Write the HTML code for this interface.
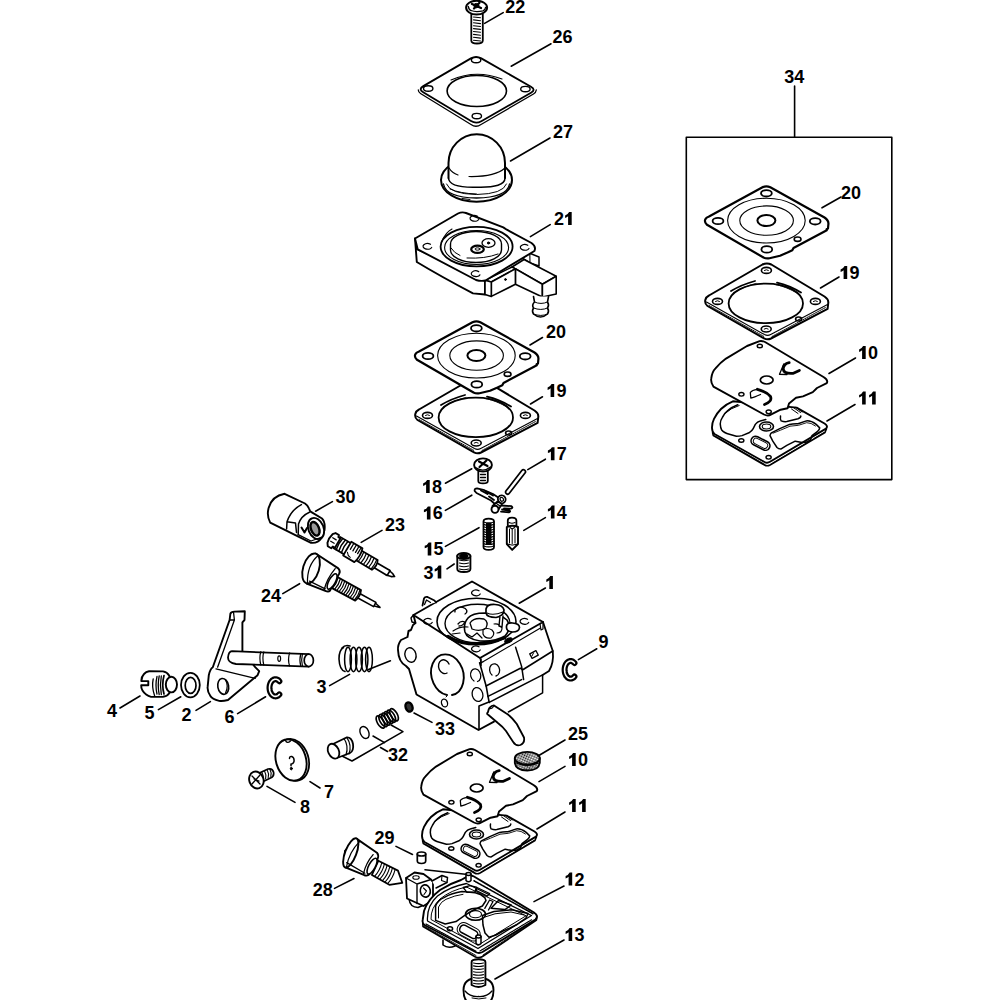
<!DOCTYPE html>
<html><head><meta charset="utf-8"><style>
html,body{margin:0;padding:0;background:#fff;width:1000px;height:1000px;overflow:hidden}
svg{display:block}
text{font-family:"Liberation Sans",sans-serif;font-weight:bold;font-size:18px;fill:#000}
</style></head><body>
<svg width="1000" height="1000" viewBox="0 0 1000 1000">
<g fill="none" stroke="#000" stroke-linejoin="round" stroke-linecap="round">
<rect x="686.3" y="137.2" width="205.5" height="342.4" stroke-width="1.6"/>
<g id="p13"><path d="M463.5,990 Q463.5,978 478.5,978 Q493.5,978 493.5,990 Q493.5,1006 478.5,1006 Q463.5,1006 463.5,990 Z" stroke-width="1.9" fill="#fff"/><path d="M465,991 Q470,997 478.5,996.5 Q487,997 492,991" stroke-width="1.3" fill="none"/><path d="M472,998 Q478.5,1000 486,998" stroke-width="1" fill="none"/><path d="M475,1001 L475,1003 M482,1001 L482,1003" stroke-width="1.4" fill="none"/><path d="M471.6,985 L471.6,962 Q471.6,959.2 478.5,959.2 Q485.4,959.2 485.4,962 L485.4,985 Q478.5,989 471.6,985 Z" stroke-width="1.9" fill="#fff"/><path d="M473.5,963.0 Q478.5,964.2 483.5,963.0" stroke-width="1.1" fill="none"/><path d="M473.5,965.9 Q478.5,967.1 483.5,965.9" stroke-width="1.1" fill="none"/><path d="M473.5,968.8 Q478.5,970.0 483.5,968.8" stroke-width="1.1" fill="none"/><path d="M473.5,971.7 Q478.5,972.9 483.5,971.7" stroke-width="1.1" fill="none"/><path d="M473.5,974.6 Q478.5,975.8 483.5,974.6" stroke-width="1.1" fill="none"/><path d="M473.5,977.5 Q478.5,978.7 483.5,977.5" stroke-width="1.1" fill="none"/><path d="M473.5,980.4 Q478.5,981.6 483.5,980.4" stroke-width="1.1" fill="none"/><path d="M473.5,983.3 Q478.5,984.5 483.5,983.3" stroke-width="1.1" fill="none"/></g>
<g id="p12"><path d="M443,940 L443,945 Q448,949 455,946 L455,941" stroke-width="1.6" fill="#fff"/><path d="M425,869.8 L465.5,874.2" stroke-width="1.6" fill="none"/><path d="M409,899 Q410,907.5 418,907.5 L424,905" stroke-width="1.5" fill="#fff"/><path d="M406,878 L414.5,872.5 L423.5,874 L431,879.5 L433,882 L433,900 L423.5,906 L407,898.5 Z" stroke-width="1.8" fill="#fff"/><path d="M406,878 L417,884 L431,879.5 M417,884 L417,903.5" stroke-width="1.4" fill="none"/><ellipse cx="425.3" cy="891.0" rx="5.0" ry="6.2" stroke-width="1.6" fill="#fff" transform="rotate(-10 425.3 891)"/><path d="M423.5,888 L426.5,891 L424,894.5" stroke-width="1.1" fill="none"/><ellipse cx="416.0" cy="877.5" rx="3.2" ry="1.8" stroke-width="1.1" fill="none"/><path d="M432,881 L442,875.5 L447.5,877.5 L447,882.5 L436,888" stroke-width="1.5" fill="#fff"/><path d="M442,875.5 L441.5,880.5 L447,882.5" stroke-width="1.1" fill="none"/><path d="M422.8,923 L423,926.5 L475.5,957 Q479,958.5 482.5,956.5 L536.5,920 L536.8,916" stroke-width="1.6" fill="#fff"/><path d="M424,926 L476,955.5 M483,955 L535.5,919.5" stroke-width="0.9" fill="none"/><path d="M468.5,875.8 Q471,875 474,876.5 L534,912.5 Q539,916 535.5,919.5 L482.5,952 Q479,954 475.5,952 L424.5,925 Q422,923 422.7,920 L424,911 Q428,899 440,890 Q450,883.5 461,880 Z" stroke-width="1.9" fill="#fff"/><path d="M466.5,883.5 L531.5,915.5 L478,948.5 L427.5,921 Q426.5,906 437.5,896 Q450,886.5 466.5,883.5 Z" stroke-width="1.3" fill="none"/><path d="M466.5,887 L526,915.8 L478,945.2 L431,919.5 Q430.5,908 440,899 Q451,890 466.5,887 Z" stroke-width="1" fill="none"/><path d="M474,880.8 L533.5,914" stroke-dasharray="0.9 0.9" stroke-width="1.6" fill="none"/><path d="M426,924 L476.5,951.5 M480,951 L532,919.5" stroke-dasharray="0.9 0.9" stroke-width="1.2" fill="none"/><path d="M435.6,920.4 L435.6,906 Q438,900 444,897.6 Q452,893 462,891.6 L475.2,892.8 Q481,894 484.8,897.6 L486,900.5 L482.4,906 Q476,908.5 470,912 L464.4,915.6 L456,921.6 L445.2,924 Z" stroke-width="1.5" fill="none"/><path d="M438.5,918 L438.5,907 Q441,901.5 446,899.3 Q455,895.3 463,894.3" stroke-width="1" fill="none"/><path d="M463.2,887.5 L470,885.6 L476.4,887.2 L475,891.8 L467,892.4 Z" stroke-width="1.3" fill="none"/><path d="M477,887.5 L489.6,893.5 L487.3,896.2 L476.3,890.7 Z" stroke-width="1.3" fill="none"/><ellipse cx="475.5" cy="914.2" rx="10.0" ry="6.0" stroke-width="1.6" fill="none"/><ellipse cx="475.5" cy="914.2" rx="6.0" ry="3.6" stroke-width="1.1" fill="none"/><path d="M484.8,908.4 L489.6,900 L493,901.5 L488.5,910" stroke-width="1.3" fill="none"/><path d="M491,908.2 L498.5,900.5 L511.2,905 L505,909.6 Z" stroke-width="1.5" fill="none"/><rect x="459.2" y="927.8" width="19" height="8" rx="3.5" transform="rotate(28 468.7 931.8)" stroke-width="1.5"/><rect x="456.7" y="925.3" width="24" height="13" rx="6" transform="rotate(28 468.7 931.8)" stroke-width="1.0"/><path d="M482.4,915.5 L494,911.5 L512,909.7 L528,913.5 L526,918 L521,921.5 L517,924.5 L510,928 L503,931 L496,935 L489,937.2 L485,933 L483,925 Z" stroke-width="1.5" fill="none"/><path d="M485,917 L495,913.8 L511,912 L524,915" stroke-width="1" fill="none"/><ellipse cx="450.0" cy="928.8" rx="2.6" ry="2.0" stroke-width="1.5" fill="none"/><path d="M466,874 L466,880.5 Q468.5,883 471,880.5 L471,874" stroke-width="1.5" fill="#fff"/><ellipse cx="468.5" cy="874.0" rx="2.5" ry="1.5" stroke-width="1.5" fill="#fff"/><path d="M476,936.5 L476,943.5 Q478.5,946 481,943.5 L481,936.5" stroke-width="1.5" fill="#fff"/><ellipse cx="478.5" cy="936.5" rx="2.5" ry="1.5" stroke-width="1.5" fill="#fff"/></g>
<g id="p28"><g transform="translate(345,851) rotate(28)"><path d="M34,-7 L56,-7.5 L65.5,1.2 L55,9 L35,8.5 Z" stroke-width="1.8" fill="#fff"/><path d="M38,-6.8 Q40,1 38,8.5" stroke-width="1.1" fill="none"/><path d="M41,-6.8 Q43,1 41,8.5" stroke-width="1.1" fill="none"/><path d="M44,-6.8 Q46,1 44,8.5" stroke-width="1.1" fill="none"/><path d="M47,-6.8 Q49,1 47,8.5" stroke-width="1.1" fill="none"/><path d="M50,-6.8 Q52,1 50,8.5" stroke-width="1.1" fill="none"/><path d="M53,-6.8 Q55,1 53,8.5" stroke-width="1.1" fill="none"/><path d="M4.3,-16.3 L29,-13.5 Q32,-12.3 32.5,-8.5 L32.5,9 Q32,11.8 28.5,12.3 L8,14.3 L4,10 L0,0 Z" stroke-width="1.9" fill="#fff"/><ellipse cx="6" cy="-1" rx="5.6" ry="15.5" transform="rotate(-7 6 -1)" stroke-width="1.9" fill="#fff"/><path d="M8.5,-15.5 Q4,-1 8.8,13.5" stroke-width="1.2" fill="none"/><path d="M7,9.5 L28,10.3" stroke-width="1.3" fill="none"/><path d="M26.5,-10 Q24,1 27,11.5" stroke-width="1.3" fill="none"/><ellipse cx="31.0" cy="0.7" rx="3.3" ry="8.8" stroke-width="1.6" fill="#fff"/></g></g>
<g id="p29"><path d="M417.3,854 L417.3,861 Q417.5,863.5 421.5,863.5 Q425.5,863.5 425.7,861 L425.7,854" stroke-width="1.7" fill="#fff"/><ellipse cx="421.5" cy="854.0" rx="4.2" ry="2.0" stroke-width="1.7" fill="#fff"/></g>
<g id="p11"><path d="M422.6,840.8 L423.3,843.5 L474.5,873 Q477.2,874.5 480,873 L535,840.5 L536.4,837" stroke-width="1.6" fill="#fff"/><path d="M425,844 L475,872.5 M483,871 L520,849 M524,846.5 L534,840.5" stroke-width="0.9" fill="none"/><path d="M506.6,815.6 L534.5,831.5 Q538.5,834 536,836.6 L480,869.8 Q477.2,871.6 474.5,870 L424.5,842 Q422.2,840.5 422,836 Q421.9,831 424,826.8 Q427,821 431,817 Q436,812 442.9,809.3 Z" stroke-width="1.9" fill="#fff"/><path d="M447.8,812.8 Q442,815 438,818.4 Q434,821.5 432.4,825.4 Q430,829 430.3,832.4 Q430.5,836 431.7,838 Q434,841 439.4,842.2 L446.4,844.3 Q449.5,844.3 452,843.6 L459,840.8 Q462,839 463.2,836.6 L465.3,832.4 Q467.5,829.5 470.2,828.9 L475.8,827.5" stroke-width="1.5" fill="none"/><path d="M435.2,821.2 Q441,816 449.2,813.5" stroke-width="1" fill="none"/><ellipse cx="476.5" cy="834.5" rx="7.0" ry="4.5" stroke-width="1.6" fill="none"/><ellipse cx="476.5" cy="834.5" rx="4.3" ry="2.5" stroke-width="1.1" fill="none"/><rect x="460.5" y="846.8" width="20" height="9" rx="4.5" transform="rotate(27 470.5 851.3)" stroke-width="1.6"/><rect x="462.8" y="848.4" width="15.4" height="5.8" rx="2.9" transform="rotate(27 470.5 851.3)" stroke-width="0.9"/><path d="M480,843.6 Q480.5,841.5 481.4,840.8 L489.8,836.6 L499.6,832.4 Q503,831.5 508,831.7 L516.4,828.9 Q521,828.5 526.2,832.4 L529.7,835.9 Q529.5,838 527.6,839.4 L522,843.6 L520.6,847.8 Q517,850.5 512.2,850.6 L505.2,849.2 L496.8,853.4 L491.2,856.9 Q488.5,857 487,855.5 L482.8,849.2 Z" stroke-width="1.5" fill="none"/><path d="M483,841.2 L490.5,838.2 L500,834.2 L508.5,833.3 L516.6,830.7 Q521,830.5 525.5,834" stroke-width="0.9" fill="none"/><path d="M490.5,824 Q490,827.5 491.2,828.9 Q494,830 496.8,829.6 L508,826.8 Q511,825.5 510.8,824" stroke-width="1.5" fill="none"/><path d="M504,816 L510.5,820.5 M506,815.5 L512,820 M501.5,817 L508,821.5" stroke-width="1" fill="none"/><ellipse cx="451.3" cy="848.5" rx="2.6" ry="1.8" stroke-width="1.4" fill="none"/><ellipse cx="478.6" cy="865.3" rx="2.6" ry="1.8" stroke-width="1.4" fill="none"/></g>
<g id="p10"><path d="M469.6,749.1 Q472,748.5 475,750 L533.5,785 Q538.5,788 536.8,791.1 L527,796 L522.8,800.2 L513,804.4 L506,805.8 L499,811.4 L497.6,816.3 L490.6,817.7 L480.8,822.6 Q478,824.5 474,822.5 L423.4,794.6 Q420.5,790 421.3,786.2 Q422,780 425.5,776.4 Q430,771 436,766.6 L457,754 Z" stroke-width="1.9" fill="#fff"/><ellipse cx="469.8" cy="754.0" rx="2.6" ry="1.8" stroke-width="1.4" fill="none"/><ellipse cx="451.4" cy="802.3" rx="2.6" ry="1.8" stroke-width="1.4" fill="none"/><ellipse cx="478.7" cy="819.8" rx="2.6" ry="1.8" stroke-width="1.4" fill="none"/><ellipse cx="476.7" cy="788.0" rx="6.4" ry="4.0" stroke-width="1.7" fill="none"/><path d="M499.2,770.6 Q493.5,771.5 493.2,777 Q493.8,782 502.8,781.4 L509.4,778.4" stroke-width="2.8" fill="none"/><path d="M493.8,772 L489.5,782.3 L497,782.5" stroke-width="1.3" fill="none"/><path d="M467.4,797.3 Q476,799.5 480.5,804.5 Q482.5,809.5 474.5,812.5" stroke-width="2.8" fill="none"/><path d="M467.4,797.3 Q462,798 460.3,800.5 L460.8,806 Q464,805.5 470.5,802.5" stroke-width="1.3" fill="none"/></g>
<g id="p25"><defs><pattern id="mesh" width="2.2" height="2.2" patternUnits="userSpaceOnUse" patternTransform="rotate(30)"><rect width="2.2" height="2.2" fill="#fff" stroke="none"/><rect width="1.1" height="1.1" fill="#111" stroke="none"/><rect x="1.1" y="1.1" width="1.1" height="1.1" fill="#333" stroke="none"/></pattern></defs><path d="M514.8,758 L514.8,763 Q516,770.5 527.3,770.5 Q538.8,770.5 539.8,763 L539.8,758" stroke-width="1.8" fill="url(#mesh)"/><ellipse cx="527.3" cy="758.2" rx="12.5" ry="6.3" stroke-width="1.8" fill="url(#mesh)"/><path d="M516,763 Q527,768 538.5,763" stroke-width="1.1" fill="none"/></g>
<g id="p1"><path d="M413.5,615 L472,581.5 L543,622 L549,640 L552.8,651 L553,666 L549,671 L542.6,675 L542.6,693 L508,712 L494,721.6 L479,729.4 L416.5,694.5 L409,669 L400,660 L398,647 L401,640 L407,637 L408,628 Z" stroke-width="0" fill="#fff"/><path d="M415.5,623 L413.5,615 M415.5,623 L413,625 L411,630 L408.5,631 L407.5,637 L401,640 Q397.5,645 398,650 Q398.5,662 406,666 L409,669 L416.5,694.5 L478.5,730 L494,721.6" stroke-width="1.9" fill="none"/><path d="M413.5,615 L411,618 L412,622 L415.5,623" stroke-width="1.4" fill="none"/><ellipse cx="410.5" cy="655.0" rx="5.5" ry="7.3" stroke-width="1.4" fill="none" transform="rotate(-15 410.5 655)"/><path d="M447,695 A16,20.7 -15 1 1 452,695" stroke-width="1.9" fill="none"/><path d="M446,697 L447,696" stroke-width="1" fill="none"/><path d="M447,673 A5.5,7 -15 1 1 449,664" stroke-width="1.4" fill="none"/><ellipse cx="444.5" cy="703.0" rx="3.0" ry="4.0" stroke-width="1.3" fill="none" transform="rotate(-15 444.5 703)"/><path d="M481,659 L481,666 M479.6,662.8 L486.2,686.2 L488,696.4 L489.2,702.4" stroke-width="1.6" fill="none"/><path d="M486,686 L520.4,668.2 L522.8,669.8 L552.8,651" stroke-width="1.6" fill="none"/><path d="M515.6,647.2 L521.6,666.4 L523.6,679.6" stroke-width="1.5" fill="none"/><path d="M488,696.4 L521.6,679.6 M489.2,702.4 L542.6,674.8 L542.6,692.8 L508.4,712" stroke-width="1.5" fill="none"/><path d="M479,706 L479,729.4 M479,706 L489,702" stroke-width="1.6" fill="none"/><path d="M474,681 A5,6.5 -15 1 1 477.5,681.5" stroke-width="1.3" fill="none"/><ellipse cx="477.5" cy="694.5" rx="5.3" ry="7.0" stroke-width="1.3" fill="none" transform="rotate(-15 477.5 694.5)"/><path d="M492,675 A5,6.2 -10 1 1 496,676" stroke-width="1.3" fill="none"/><rect x="530.5" y="652" width="7" height="5" transform="rotate(-28 534 654.5)" stroke-width="1.3"/><line x1="532.0" y1="656.0" x2="533.5" y2="653.0" stroke-width="1"/><path d="M543,622 L549,640 L552.8,651 Q554,663 549,671 L542.6,675" stroke-width="1.8" fill="none"/><path d="M413.5,615 L472,581.5 L543,622 L480,658 Z" stroke-width="1.9" fill="#fff"/><path d="M540.5,628 L483,661.8" stroke-width="1.2" fill="none"/><path d="M540,624 L541,630 L543,629 L543,622" stroke-width="1.2" fill="none"/><path d="M480,658 L481,663 L483,661.8" stroke-width="1.2" fill="none"/><path d="M422.5,605.5 L424,598.5 Q425,596.5 427.5,597 L434.5,600.5 L436,602.5" stroke-width="1.8" fill="#fff"/><path d="M424.5,604.5 L426.5,600 L430.5,602.5" stroke-width="1.3" fill="none"/><ellipse cx="476.5" cy="621.5" rx="39.5" ry="23.3" stroke-width="1.6" fill="none"/><ellipse cx="477.5" cy="623.5" rx="32.5" ry="19.3" stroke-width="1.4" fill="none"/><path d="M448,636 Q470,650 505,638" stroke-width="2.5" fill="none"/><path d="M468,618 Q472,613 485,613 Q500,614 507,620 Q512,628 505,636 Q495,642 480,641 Q467,639 465,632 Q463,624 468,618 Z" stroke-width="1.6" fill="#fff"/><path d="M470,623 Q474,617 484,619 Q489,622 486,628 Q480,632 472,629 Z" stroke-width="1.3" fill="none"/><path d="M483,630 Q487,627 492,630 Q496,634 491,638 Q485,639 483,634 Z" stroke-width="1.2" fill="none"/><path d="M467,634 L472,637 L477,633 L482,638 M494,624 Q499,623 502,628 Q502,633 497,633" stroke-width="1.2" fill="none"/><path d="M453,631 Q460,626 468,627 M452,634 L460,633" stroke-width="1.2" fill="none"/><path d="M458,624 q3,-4 7,-2 q-2,4 -6,4" stroke-width="1.3" fill="none"/><path d="M455,612 A6,4 0 1 1 465,614" stroke-width="1.3" fill="none"/><path d="M486,609 Q487,604 495,604.5 Q503,605 504,610 Q504,616 496,617.5 Q487,617.5 486,613 Z" stroke-width="1.7" fill="#fff"/><path d="M487,613 Q493,616 503,612" stroke-width="1.1" fill="none"/><path d="M500,616 L499,626 L502,627 L503,616" stroke-width="1.4" fill="#fff"/><path d="M506.5,626 Q507,622.5 512.5,623 Q519.5,623.5 519.5,627.5 Q519,632 512.5,632 Q507,631.5 506.5,628 Z" stroke-width="1.7" fill="#fff"/><ellipse cx="508.5" cy="640.5" rx="4.0" ry="2.2" stroke-width="1" fill="#000" transform="rotate(-25 508.5 640.5)"/><path d="M479.0,590.8 A4.5,2.8 0 1 0 480.2,594.0" stroke-width="1.3" fill="none"/><path d="M431.0,619.3 A4.5,2.8 0 1 0 432.2,622.5" stroke-width="1.3" fill="none"/><path d="M527.5,619.3 A4.5,2.8 0 1 0 528.7,622.5" stroke-width="1.3" fill="none"/><path d="M479.0,646.8 A4.5,2.8 0 1 0 480.2,650.0" stroke-width="1.3" fill="none"/><path d="M488,712 Q486,714 488.5,715 L497.6,722.8 Q503,727 506,731 L513.2,742 Q516,746.5 520.4,745 Q525,743 524,737.5 L516.8,724 Q511,716 506,713.2 L494,705.4 Q489,706 488,712 Z" stroke-width="1.8" fill="#fff"/><path d="M489,708 Q492,710 494,705.4" stroke-width="1.1" fill="none"/></g>
<g id="p19"><path d="M419,409.5 L472.5,378.5 Q476.9,376.3 481.3,378.5 L534.5,410.5 Q539,413.5 538.2,417.5 L537.6,422.8 L481,452.5 Q477.5,454.2 474,452.3 L417.5,420 Q414.6,417.8 415.3,414 Q416,411 419,409.5 Z" stroke-width="2" fill="#fff"/><path d="M416.5,416 L474.5,448.6 Q477.6,450.2 480.7,448.6 L537.5,418.5" stroke-width="1.1" fill="none"/><path d="M419,419.5 L474,450.5 M482,450.5 L535.5,421.5" stroke-dasharray="1.2 1" stroke-width="1" fill="none"/><ellipse cx="475.8" cy="417.4" rx="37.2" ry="19.8" stroke-width="1.8" fill="none"/><path d="M441,405 Q452,398.5 465,395 M487,396.6 Q500,399.5 511,406.6" stroke-width="1.8" fill="none"/><path d="M443.5,407 Q454,400.5 466,397.5 M486,398.6 Q498,401.5 508.5,408" stroke-dasharray="1 1" stroke-width="1" fill="none"/><ellipse cx="476.4" cy="384.4" rx="5.0" ry="3.0" stroke-width="1.6" fill="none"/><path d="M474.4,384.4 q2,-1.5 4,0" stroke-width="1" fill="none"/><ellipse cx="427.5" cy="415.4" rx="5.0" ry="3.0" stroke-width="1.6" fill="none"/><path d="M425.5,415.4 q2,-1.5 4,0" stroke-width="1" fill="none"/><ellipse cx="525.4" cy="415.4" rx="5.0" ry="3.0" stroke-width="1.6" fill="none"/><path d="M523.4,415.4 q2,-1.5 4,0" stroke-width="1" fill="none"/><ellipse cx="476.2" cy="443.0" rx="5.0" ry="3.0" stroke-width="1.6" fill="none"/><path d="M474.2,443.0 q2,-1.5 4,0" stroke-width="1" fill="none"/><ellipse cx="508.6" cy="433.0" rx="3.0" ry="2.0" stroke-width="1.6" fill="none"/></g>
<g id="p20"><path d="M419,351.5 L472.5,322.3 Q476.4,320.3 480.3,322.3 L534.5,352.5 Q539.2,355.5 538.3,360 L538,363.5 L536.6,364.3 L536.8,365.3 L503.5,383 L502.3,385.3 L497.5,387.5 L490,390.7 L479.5,393.2 Q476.4,394 473.5,392.5 L417,359.8 Q414.2,357.5 415.2,354.5 Q416,352.6 419,351.5 Z" stroke-width="2.2" fill="#fff"/><ellipse cx="476.4" cy="328.3" rx="5.4" ry="3.2" stroke-width="1.8" fill="none"/><ellipse cx="428.0" cy="356.0" rx="5.4" ry="3.2" stroke-width="1.8" fill="none"/><ellipse cx="525.2" cy="356.3" rx="5.4" ry="3.2" stroke-width="1.8" fill="none"/><ellipse cx="476.8" cy="384.4" rx="5.4" ry="3.2" stroke-width="1.8" fill="none"/><ellipse cx="507.6" cy="374.2" rx="3.4" ry="2.2" stroke-width="1.6" fill="none"/><ellipse cx="476.4" cy="355.6" rx="38.8" ry="22.4" stroke-width="1.1" fill="none"/><ellipse cx="476.6" cy="355.6" rx="26.8" ry="14.7" stroke-width="1.1" fill="none"/><ellipse cx="476.4" cy="355.6" rx="9.0" ry="5.5" stroke-width="2" fill="none"/></g>
<g id="p27"><ellipse cx="476.5" cy="180.0" rx="35.5" ry="21.8" stroke-width="2" fill="#fff"/><path d="M443.5,184 Q446,197.5 476.5,198 Q507,197.5 509.5,184" stroke-width="1.3" fill="none"/><path d="M446.5,184 Q450,194 476.5,194.5 Q503,194 506.5,184" stroke-width="1" fill="none"/><path d="M450,189 Q460,193.5 476.5,194 M462,198.5 L470,199.5" stroke-width="1" fill="none"/><path d="M448.5,178 Q449,188 476.75,187.2 Q505,188 505,178" stroke-width="1.5" fill="none"/><path d="M448.5,178 L448.5,163 A28.2,28.8 0 0 1 505,163 L505,178" stroke-width="2" fill="#fff"/><path d="M449,168 Q452,173 458,175 M469,176.5 Q495,177 505,168" stroke-width="1.2" fill="none"/></g>
<g id="p26"><path d="M423.3,86.1 L470.9,58.4 Q476.1,55.4 481.3,58.4 L531.0,86.8 Q536.2,89.8 531.0,92.8 L481.3,121.2 Q476.1,124.2 471.0,121.1 L423.2,92.2 Q418.1,89.1 423.3,86.1 Z" stroke-width="1.8" fill="#fff"/><path d="M418.3,90 Q418.5,92.5 420.5,93.5 L471,124.5 Q476,128 481,124.5 L533.5,94 Q536,92.5 536.3,90" stroke-width="1.3" fill="none"/><ellipse cx="476.1" cy="60.1" rx="4.7" ry="2.7" stroke-width="1.4" fill="none"/><ellipse cx="428.2" cy="88.5" rx="4.7" ry="2.7" stroke-width="1.4" fill="none"/><ellipse cx="525.4" cy="89.1" rx="4.7" ry="2.7" stroke-width="1.4" fill="none"/><ellipse cx="476.8" cy="116.1" rx="4.7" ry="2.7" stroke-width="1.4" fill="none"/><ellipse cx="476.8" cy="91.0" rx="29.7" ry="15.5" stroke-width="1.6" fill="none"/><path d="M451,80 Q476,69 502,79" stroke-width="1.1" fill="none"/></g>
<g id="p21"><path d="M415,238.5 L416.8,262 Q440,276 473,293.4 L485,294.5 L485,281 L417.7,249.3 Z" stroke-width="1.9" fill="#fff"/><path d="M522,258 L529.8,253.3 L539,257 L539,266 L530,263 Z" stroke-width="1.5" fill="#fff"/><line x1="529.8" y1="253.3" x2="530.0" y2="263.0" stroke-width="1.1"/><path d="M512,267 L524,259.5 L556.2,276.3 L542.4,284.3 Z" stroke-width="1.6" fill="#fff"/><path d="M515.4,268.8 L542.4,284.3 L542.4,297 L515.4,284.3 Z" stroke-width="1.6" fill="#fff"/><path d="M542.4,284.3 L556.2,276.3 L556.2,294 L542.4,297 Z" stroke-width="1.6" fill="#fff"/><path d="M485,280.3 L512,267 L515.4,268.8 L491.3,282 Z" stroke-width="1.5" fill="#fff"/><path d="M491.3,282 L515.4,268.8 L515.4,284.3 L491.3,296.4 Z" stroke-width="1.6" fill="#fff"/><path d="M485,280.3 L491.3,282 L491.3,296.4 L485,294.5 Z" stroke-width="1.6" fill="#fff"/><ellipse cx="505.5" cy="279.5" rx="0.9" ry="0.9" stroke-width="1" fill="#000"/><path d="M415,238.5 L458,213.5 Q462,211.5 466,213 L503.3,227.4 L506.8,229.7 L531.5,243 Q536.5,246.5 534.4,251 L485.5,280.5 Q481,281.5 476,280 L417.7,249.3 Z" stroke-width="1.9" fill="#fff"/><path d="M533.5,296.5 L534.5,302 Q531.5,305 533.5,308 Q531.5,311 533.5,314 Q540.5,320 547.5,314 Q549.5,311 547.5,308 Q549.5,305 547.5,302 L548.5,296.5" stroke-width="1.6" fill="#fff"/><path d="M534.5,302 Q541,305 547.5,302 M533.5,308 Q541,311 547.5,308 M533.5,314 Q541,317 547.5,314" stroke-width="1" fill="none"/><ellipse cx="476.6" cy="246.6" rx="36.0" ry="19.8" stroke-width="1.8" fill="none"/><ellipse cx="476.6" cy="247.5" rx="32.0" ry="17.0" stroke-width="1.1" fill="none"/><path d="M442,241 Q446,232 452,229" stroke-width="1.1" fill="none"/><path d="M450.5,244 A25.5,12.5 0 0 1 501.5,244 L501.5,250 A25.5,12.5 0 0 1 450.5,250 Z" stroke-width="1.4" fill="#fff"/><path d="M451,248 Q454,253 460,255.5 M467,258 Q485,259 498,254" stroke-width="1" fill="none"/><ellipse cx="488.5" cy="243.0" rx="6.5" ry="4.3" stroke-width="1.3" fill="none"/><ellipse cx="488.5" cy="243.0" rx="1.2" ry="1.0" stroke-width="1" fill="#000"/><ellipse cx="477.5" cy="249.3" rx="6.3" ry="3.6" stroke-width="2.2" fill="none"/><ellipse cx="477.5" cy="249.0" rx="2.5" ry="1.2" stroke-width="1" fill="none"/><path d="M477.5,216.3 A4.5,2.8 0 1 0 478.7,219.5" stroke-width="1.2" fill="none"/><path d="M430.5,244.3 A4.5,2.8 0 1 0 431.7,247.5" stroke-width="1.2" fill="none"/><path d="M527.8,245.3 A4.5,2.8 0 1 0 529.0,248.5" stroke-width="1.2" fill="none"/><path d="M478.7,271.6 A4.5,2.8 0 1 0 479.9,274.8" stroke-width="1.2" fill="none"/></g>
<g id="p22"><path d="M471.3,14 L471.3,40.5 Q471.3,43.5 477,43.5 Q482.8,43.5 482.8,40.5 L482.8,14" stroke-width="1.8" fill="#fff"/><line x1="473.5" y1="17.0" x2="480.5" y2="17.8" stroke-width="1.1"/><line x1="473.5" y1="19.9" x2="480.5" y2="20.7" stroke-width="1.1"/><line x1="473.5" y1="22.8" x2="480.5" y2="23.6" stroke-width="1.1"/><line x1="473.5" y1="25.7" x2="480.5" y2="26.5" stroke-width="1.1"/><line x1="473.5" y1="28.6" x2="480.5" y2="29.4" stroke-width="1.1"/><line x1="473.5" y1="31.5" x2="480.5" y2="32.3" stroke-width="1.1"/><line x1="473.5" y1="34.4" x2="480.5" y2="35.2" stroke-width="1.1"/><line x1="473.5" y1="37.3" x2="480.5" y2="38.1" stroke-width="1.1"/><line x1="473.5" y1="40.2" x2="480.5" y2="41.0" stroke-width="1.1"/><ellipse cx="476.6" cy="7.6" rx="10.5" ry="6.9" stroke-width="2" fill="#fff"/><path d="M468.3,6.5 Q469,10 471,10.5 Q476,12.5 483,10.8 Q485.5,9.5 485.5,7.5" stroke-width="1.3" fill="none"/><path d="M472,4 L481,8 M479.5,2.8 L474,8.5" stroke-width="2.3" fill="none"/><ellipse cx="476.3" cy="5.6" rx="2.5" ry="2.2" stroke-width="1" fill="#000"/></g>
<g id="p19b"><g transform="translate(290,-114)"><path d="M419,409.5 L472.5,378.5 Q476.9,376.3 481.3,378.5 L534.5,410.5 Q539,413.5 538.2,417.5 L537.6,422.8 L481,452.5 Q477.5,454.2 474,452.3 L417.5,420 Q414.6,417.8 415.3,414 Q416,411 419,409.5 Z" stroke-width="2" fill="#fff"/><path d="M416.5,416 L474.5,448.6 Q477.6,450.2 480.7,448.6 L537.5,418.5" stroke-width="1.1" fill="none"/><path d="M419,419.5 L474,450.5 M482,450.5 L535.5,421.5" stroke-dasharray="1.2 1" stroke-width="1" fill="none"/><ellipse cx="475.8" cy="417.4" rx="37.2" ry="19.8" stroke-width="1.8" fill="none"/><path d="M441,405 Q452,398.5 465,395 M487,396.6 Q500,399.5 511,406.6" stroke-width="1.8" fill="none"/><path d="M443.5,407 Q454,400.5 466,397.5 M486,398.6 Q498,401.5 508.5,408" stroke-dasharray="1 1" stroke-width="1" fill="none"/><ellipse cx="476.4" cy="384.4" rx="5.0" ry="3.0" stroke-width="1.6" fill="none"/><path d="M474.4,384.4 q2,-1.5 4,0" stroke-width="1" fill="none"/><ellipse cx="427.5" cy="415.4" rx="5.0" ry="3.0" stroke-width="1.6" fill="none"/><path d="M425.5,415.4 q2,-1.5 4,0" stroke-width="1" fill="none"/><ellipse cx="525.4" cy="415.4" rx="5.0" ry="3.0" stroke-width="1.6" fill="none"/><path d="M523.4,415.4 q2,-1.5 4,0" stroke-width="1" fill="none"/><ellipse cx="476.2" cy="443.0" rx="5.0" ry="3.0" stroke-width="1.6" fill="none"/><path d="M474.2,443.0 q2,-1.5 4,0" stroke-width="1" fill="none"/><ellipse cx="508.6" cy="433.0" rx="3.0" ry="2.0" stroke-width="1.6" fill="none"/></g></g>
<g id="p20b"><g transform="translate(290,-135)"><path d="M419,351.5 L472.5,322.3 Q476.4,320.3 480.3,322.3 L534.5,352.5 Q539.2,355.5 538.3,360 L538,363.5 L536.6,364.3 L536.8,365.3 L503.5,383 L502.3,385.3 L497.5,387.5 L490,390.7 L479.5,393.2 Q476.4,394 473.5,392.5 L417,359.8 Q414.2,357.5 415.2,354.5 Q416,352.6 419,351.5 Z" stroke-width="2.2" fill="#fff"/><ellipse cx="476.4" cy="328.3" rx="5.4" ry="3.2" stroke-width="1.8" fill="none"/><ellipse cx="428.0" cy="356.0" rx="5.4" ry="3.2" stroke-width="1.8" fill="none"/><ellipse cx="525.2" cy="356.3" rx="5.4" ry="3.2" stroke-width="1.8" fill="none"/><ellipse cx="476.8" cy="384.4" rx="5.4" ry="3.2" stroke-width="1.8" fill="none"/><ellipse cx="507.6" cy="374.2" rx="3.4" ry="2.2" stroke-width="1.6" fill="none"/><ellipse cx="476.4" cy="355.6" rx="38.8" ry="22.4" stroke-width="1.1" fill="none"/><ellipse cx="476.6" cy="355.6" rx="26.8" ry="14.7" stroke-width="1.1" fill="none"/><ellipse cx="476.4" cy="355.6" rx="9.0" ry="5.5" stroke-width="2" fill="none"/></g></g>
<g id="p18"><path d="M478.3,470 L478.3,481 Q478.3,483.4 483,483.4 Q487.8,483.4 487.8,481 L487.8,470" stroke-width="1.8" fill="#fff"/><ellipse cx="483.0" cy="465.0" rx="8.9" ry="6.6" stroke-width="1.9" fill="#fff"/><path d="M475.5,467.5 Q483,473 490.5,467" stroke-width="1.4" fill="none"/><path d="M479,461.5 L487.5,466 M486.5,460.5 L479.5,467" stroke-width="2.2" fill="none"/><path d="M480.5,474.5 L485.5,474.5 M480.5,477.5 L485.5,477.5 M480.5,480.5 L485.5,480.5" stroke-width="1.3" fill="none"/></g>
<g id="p17"><line x1="523.4" y1="471.8" x2="507.7" y2="492.1" stroke-width="5.8"/><line x1="523.4" y1="471.8" x2="507.7" y2="492.1" stroke="#fff" stroke-width="2.4"/></g>
<g id="p16"><path d="M501.5,505.5 L511.5,506.2 Q513.5,507.6 511,508.6 L504,508.5 M502,509.5 L509.5,510.5 Q511,511.8 509,512.4 L501,511.6" stroke-width="1.8" fill="#fff"/><path d="M474.6,490.8 Q474.5,488.3 477,488.3 L484.4,490.2 L493,494 L497.5,497 L499.5,502 L496,505 L491,500.5 L476.5,493 Z" stroke-width="1.8" fill="#fff"/><path d="M481,490.5 L487.5,494 M485.5,491.2 L493,495.5 M489,496.5 L494,500" stroke-width="1.9" fill="none"/><ellipse cx="501.8" cy="499.3" rx="3.8" ry="4.0" stroke-width="1.8" fill="#fff" transform="rotate(-30 501.8 499.3)"/><ellipse cx="501.8" cy="499.3" rx="1.6" ry="2.0" stroke-width="1.2" fill="none" transform="rotate(-30 501.8 499.3)"/><path d="M492.5,506 L497.5,501.5 L502,504 L498.5,509.5" stroke-width="1.7" fill="#fff"/><ellipse cx="495.0" cy="509.3" rx="3.5" ry="3.6" stroke-width="1.9" fill="#fff"/><path d="M496.5,503.5 L500,506" stroke-width="1.2" fill="none"/></g>
<g id="p15"><path d="M483.5,521.5 Q483.5,518.7 488.6,518.7 Q494,518.7 494,521.5 L494,547 Q494,549.9 488.6,549.9 Q483.5,549.9 483.5,547 Z" stroke-width="1.8" fill="#fff"/><rect x="486" y="523" width="5.5" height="22" fill="#000" stroke="none"/><path d="M483.5,522.0 Q488.6,523.8 494,522.0" stroke-width="1.2" fill="none"/><path d="M483.5,524.4 Q488.6,526.2 494,524.4" stroke-width="1.2" fill="none"/><path d="M483.5,526.8 Q488.6,528.6 494,526.8" stroke-width="1.2" fill="none"/><path d="M483.5,529.2 Q488.6,531.0 494,529.2" stroke-width="1.2" fill="none"/><path d="M483.5,531.6 Q488.6,533.4 494,531.6" stroke-width="1.2" fill="none"/><path d="M483.5,534.0 Q488.6,535.8 494,534.0" stroke-width="1.2" fill="none"/><path d="M483.5,536.4 Q488.6,538.2 494,536.4" stroke-width="1.2" fill="none"/><path d="M483.5,538.8 Q488.6,540.6 494,538.8" stroke-width="1.2" fill="none"/><path d="M483.5,541.2 Q488.6,543.0 494,541.2" stroke-width="1.2" fill="none"/><path d="M483.5,543.6 Q488.6,545.4 494,543.6" stroke-width="1.2" fill="none"/><path d="M483.5,546.0 Q488.6,547.8 494,546.0" stroke-width="1.2" fill="none"/></g>
<g id="p14"><path d="M507.8,526 L507.8,520.5 Q507.8,517.6 512,517.6 Q516.4,517.6 516.4,520.5 L516.4,526" stroke-width="1.8" fill="#fff"/><path d="M509,522.5 Q512,524 515,522.5" stroke-width="1.1" fill="none"/><path d="M506.8,527 Q512,524.5 518,527 L518,544 L512.2,549.9 L506.8,544 Z" stroke-width="1.9" fill="#fff"/><path d="M509.5,529 L509.5,543 M512.2,529.5 L512.2,544 M515,529 L515,543 M507,544 Q512,546.5 518,544" stroke-width="1" fill="none"/><path d="M510,527.5 L512.2,529 L514.5,527.5" stroke-width="1.1" fill="none"/></g>
<g id="p31"><path d="M457.3,556 L457.3,569 Q457.3,572 463.8,572 Q470.4,572 470.4,569 L470.4,556" stroke-width="1.9" fill="#fff"/><ellipse cx="463.8" cy="556.0" rx="6.6" ry="3.0" stroke-width="1.9" fill="#fff"/><ellipse cx="463.8" cy="556.0" rx="4.0" ry="1.8" stroke-width="1.5" fill="#000"/><path d="M459.5,560.0 Q464,561.5 468.5,560.0" stroke-width="1.2" fill="none"/><path d="M459.5,563.0 Q464,564.5 468.5,563.0" stroke-width="1.2" fill="none"/><path d="M459.5,566.0 Q464,567.5 468.5,566.0" stroke-width="1.2" fill="none"/><path d="M459.5,569.0 Q464,570.5 468.5,569.0" stroke-width="1.2" fill="none"/></g>
<g id="p9"><path d="M574.46,676.54 L573.91,677.14 L573.32,677.64 L572.70,678.04 L572.05,678.34 L571.38,678.52 L570.70,678.60 L570.02,678.56 L569.35,678.41 L568.70,678.15 L568.06,677.78 L567.47,677.30 L566.91,676.73 L566.39,676.08 L565.94,675.34 L565.54,674.53 L565.21,673.66 L564.94,672.74 L564.75,671.78 L564.64,670.80 L564.60,669.80 L564.64,668.80 L564.75,667.82 L564.94,666.86 L565.21,665.94 L565.54,665.07 L565.94,664.26 L566.39,663.52 L566.91,662.87 L567.47,662.30 L568.06,661.82 L568.70,661.45 L569.35,661.19 L570.02,661.04 L570.70,661.00 L571.38,661.08 L572.05,661.26 L572.70,661.56 L573.32,661.96 L573.91,662.46 L574.46,663.06" stroke-width="6" fill="none"/><path d="M574.46,676.54 L573.91,677.14 L573.32,677.64 L572.70,678.04 L572.05,678.34 L571.38,678.52 L570.70,678.60 L570.02,678.56 L569.35,678.41 L568.70,678.15 L568.06,677.78 L567.47,677.30 L566.91,676.73 L566.39,676.08 L565.94,675.34 L565.54,674.53 L565.21,673.66 L564.94,672.74 L564.75,671.78 L564.64,670.80 L564.60,669.80 L564.64,668.80 L564.75,667.82 L564.94,666.86 L565.21,665.94 L565.54,665.07 L565.94,664.26 L566.39,663.52 L566.91,662.87 L567.47,662.30 L568.06,661.82 L568.70,661.45 L569.35,661.19 L570.02,661.04 L570.70,661.00 L571.38,661.08 L572.05,661.26 L572.70,661.56 L573.32,661.96 L573.91,662.46 L574.46,663.06" stroke="#fff" stroke-width="1.6" fill="none"/></g>
<g id="p6"><path d="M279.36,694.39 L278.81,694.97 L278.22,695.46 L277.60,695.86 L276.95,696.14 L276.28,696.33 L275.60,696.40 L274.92,696.36 L274.25,696.21 L273.60,695.96 L272.96,695.59 L272.37,695.13 L271.81,694.58 L271.29,693.93 L270.84,693.21 L270.44,692.42 L270.11,691.57 L269.84,690.67 L269.65,689.73 L269.54,688.77 L269.50,687.80 L269.54,686.83 L269.65,685.87 L269.84,684.93 L270.11,684.03 L270.44,683.18 L270.84,682.39 L271.29,681.67 L271.81,681.02 L272.37,680.47 L272.96,680.01 L273.60,679.64 L274.25,679.39 L274.92,679.24 L275.60,679.20 L276.28,679.27 L276.95,679.46 L277.60,679.74 L278.22,680.14 L278.81,680.63 L279.36,681.21" stroke-width="6" fill="none"/><path d="M279.36,694.39 L278.81,694.97 L278.22,695.46 L277.60,695.86 L276.95,696.14 L276.28,696.33 L275.60,696.40 L274.92,696.36 L274.25,696.21 L273.60,695.96 L272.96,695.59 L272.37,695.13 L271.81,694.58 L271.29,693.93 L270.84,693.21 L270.44,692.42 L270.11,691.57 L269.84,690.67 L269.65,689.73 L269.54,688.77 L269.50,687.80 L269.54,686.83 L269.65,685.87 L269.84,684.93 L270.11,684.03 L270.44,683.18 L270.84,682.39 L271.29,681.67 L271.81,681.02 L272.37,680.47 L272.96,680.01 L273.60,679.64 L274.25,679.39 L274.92,679.24 L275.60,679.20 L276.28,679.27 L276.95,679.46 L277.60,679.74 L278.22,680.14 L278.81,680.63 L279.36,681.21" stroke="#fff" stroke-width="1.6" fill="none"/></g>
<g id="p30"><path d="M284.6,493.8 L305,503.5 Q308,505.5 309,508.5 L310.2,511.4 L322,518.5 Q325.5,522 324.5,530 L321.5,538 Q318,543.5 311,542.8 L297.4,536.2 L270.2,522.6 Q266.5,516 268.6,508 Q272,496 284.6,493.8 Z" stroke-width="1.9" fill="#fff"/><path d="M301.4,504.6 Q291,510 287,521.8 L286.6,529 M287,521.8 L295.5,523 L296.5,532.5" stroke-width="1.5" fill="none"/><path d="M309.4,512.2 Q301,516 298.5,524 L298.2,534.6" stroke-width="1.5" fill="none"/><ellipse cx="316.0" cy="528.5" rx="7.6" ry="11.0" stroke-width="1.9" fill="#fff" transform="rotate(-22 316 528.5)"/><ellipse cx="315.0" cy="528.8" rx="4.0" ry="7.2" stroke-width="2.4" fill="#999" transform="rotate(-22 315 528.8)"/><path d="M298.2,534.6 L311,541 L320.8,537.5" stroke-width="1.3" fill="none"/><path d="M301.5,527.5 L304.5,532.5 L307,528" stroke-width="2" fill="none"/></g>
<g id="p24"><g transform="translate(309,568.5) rotate(28.7)"><path d="M74,-1.8 L78,-0.8 L81,0 L78,0.8 L74,1.8 Z" stroke-width="1.5" fill="#fff"/><path d="M56,-2.4 L75,-2.4 L75,2.4 L56,2.4" stroke-width="1.6" fill="#fff"/><path d="M27,-6.2 L56,-6 Q58.5,0 56,6 L27,6.2 Z" stroke-width="1.8" fill="#fff"/><path d="M30.0,-5.8 Q31.5,0 30.0,5.8" stroke-width="1.2" fill="none"/><path d="M32.5,-5.8 Q34.0,0 32.5,5.8" stroke-width="1.2" fill="none"/><path d="M35.0,-5.8 Q36.5,0 35.0,5.8" stroke-width="1.2" fill="none"/><path d="M37.5,-5.8 Q39.0,0 37.5,5.8" stroke-width="1.2" fill="none"/><path d="M40.0,-5.8 Q41.5,0 40.0,5.8" stroke-width="1.2" fill="none"/><path d="M42.5,-5.8 Q44.0,0 42.5,5.8" stroke-width="1.2" fill="none"/><path d="M45.0,-5.8 Q46.5,0 45.0,5.8" stroke-width="1.2" fill="none"/><path d="M47.5,-5.8 Q49.0,0 47.5,5.8" stroke-width="1.2" fill="none"/><path d="M50.0,-5.8 Q51.5,0 50.0,5.8" stroke-width="1.2" fill="none"/><path d="M52.5,-5.8 Q54.0,0 52.5,5.8" stroke-width="1.2" fill="none"/><path d="M55.0,-5.8 Q56.5,0 55.0,5.8" stroke-width="1.2" fill="none"/><path d="M-1.3,-16.3 L25.6,-14.2 Q29,-13 29,-10 L29,9.5 Q28.5,11.5 25,11.8 L5.3,14.4 L0,8 Z" stroke-width="1.9" fill="#fff"/><ellipse cx="1.8" cy="-1" rx="8" ry="15.5" transform="rotate(-12 1.8 -1)" stroke-width="1.9" fill="#fff"/><path d="M1.8,-15.8 Q-3.5,-2 5.8,13.8" stroke-width="1.2" fill="none"/><path d="M6.5,10.8 L24,10" stroke-width="1.3" fill="none"/><path d="M23,-12.5 Q20.5,0 23.5,11.5" stroke-width="1.3" fill="none"/><ellipse cx="26.5" cy="0.3" rx="3.2" ry="8.6" stroke-width="1.6" fill="#fff"/></g></g>
<g id="p23"><g transform="translate(330,538.5) rotate(30.5)"><path d="M67,-2.6 L72,-1.5 L75,0 L72,1.8 L67,2.8 Z" stroke-width="1.6" fill="#fff"/><path d="M52,-2.8 L68,-2.8 L68,2.8 L52,2.8" stroke-width="1.7" fill="#fff"/><path d="M33,-5.6 L52,-5.6 Q55,0 52,5.6 L33,5.6 Z" stroke-width="1.8" fill="#fff"/><path d="M36,-5 Q37,0 36,5" stroke-width="1.2" fill="none"/><path d="M39,-5 Q40,0 39,5" stroke-width="1.2" fill="none"/><path d="M42,-5 Q43,0 42,5" stroke-width="1.2" fill="none"/><path d="M45,-5 Q46,0 45,5" stroke-width="1.2" fill="none"/><path d="M48,-5 Q49,0 48,5" stroke-width="1.2" fill="none"/><path d="M51,-5 Q52,0 51,5" stroke-width="1.2" fill="none"/><path d="M20,-8 L33,-8 Q35.5,0 33,8 L20,8 Q18,0 20,-8 Z" stroke-width="1.8" fill="#fff"/><line x1="23.0" y1="-7.5" x2="23.0" y2="-1.0" stroke-width="1.3"/><line x1="26.0" y1="-7.5" x2="26.0" y2="-1.0" stroke-width="1.3"/><line x1="29.0" y1="-7.5" x2="29.0" y2="-1.0" stroke-width="1.3"/><line x1="31.5" y1="-7.5" x2="31.5" y2="-1.0" stroke-width="1.3"/><path d="M22,3 Q24,6 27,6" stroke-width="1.1" fill="none"/><path d="M8,-6.5 L20,-6.5 L20,6.5 L8,6.5 Z" stroke-width="1.7" fill="#fff"/><path d="M11,-6.5 Q9.5,0 11,6.5 M14,-6.5 Q12.5,0 14,6.5 M17,-6.5 Q15.5,0 17,6.5" stroke-width="1.5" fill="none"/><path d="M0,-5 L2,-7.5 L6,-7.5 L6.5,-5.5 L9,-5.5 L9,5.5 L6.5,5.5 L6,7.8 L2,7.8 L0,5 Q-1.5,0 0,-5 Z" stroke-width="1.9" fill="#fff"/><path d="M2,-2 L6,-2 M2,2 L6,2" stroke-width="1.3" fill="none"/></g></g>
<g id="p2"><path d="M230.4,613.6 Q231,611.8 234.4,611.6 L244.8,611.2 L244.5,620 L242.4,622.4 L242.4,651 L255.2,667.2 L259.2,671.2 L257.6,675.2 L228,700 Q222,701.5 219.2,700.8 Q212,699 210.4,696 Q207,691 207.7,686.4 L208.8,675.2 Q210,669 212.8,667.2 L229.6,620 Z" stroke-width="1.9" fill="#fff"/><path d="M233.5,612 L234.4,620 L217.6,667.2 M216,668.8 L255.2,678.4 M229.6,620 L234.4,620" stroke-width="1.3" fill="none"/><ellipse cx="223.2" cy="686.4" rx="5.4" ry="8.0" stroke-width="1.6" fill="none" transform="rotate(-10 223.2 686.4)"/><path d="M225.5,680 Q229,686 225.5,693" stroke-width="1.2" fill="none"/><path d="M232,651.2 L308.8,654.2 L308.8,666.6 L236,664 Q228,663 228,657.6 Q228.5,651.5 232,651.2 Z" stroke-width="1.8" fill="#fff"/><ellipse cx="308.8" cy="660.4" rx="4.6" ry="6.2" stroke-width="1.7" fill="#fff"/><path d="M260.8,651.7 Q259,658 260.8,665 M263.8,651.9 Q262,658 263.8,665.1 M289.6,652.9 Q287.5,659.5 289.6,666 M300.8,653.6 Q299,660 300.8,666.3 M302.5,653.7 Q300.8,660 302.5,666.4" stroke-width="1.2" fill="none"/><ellipse cx="279.2" cy="658.6" rx="1.4" ry="2.8" stroke-width="1.2" fill="none"/></g>
<g id="p4"><path d="M149,671.3 L163,671.4 Q167,672 169.5,676 L169.5,693 Q167,696.6 163,696.8 L151.1,696.85 Q145.5,695.5 142.5,690.5 Q141,688 141.2,685.3 L148.3,685.3 L148.3,681.1 L141.3,681.1 Q141.5,676.5 144,674 Q146,671.8 149,671.3 Z" stroke-width="1.9" fill="#fff"/><path d="M153.2,679 Q151.5,687 154.6,695.8" stroke-width="1.3" fill="none"/><path d="M157,676.5 Q155,685 157,694 M159.2,676 Q157.3,685 159.2,694.5 M161.3,676 Q159.6,685 161.3,694.5" stroke-width="1.3" fill="none"/><path d="M164,675.5 Q161.5,685 164,694" stroke-width="1.7" fill="none"/><ellipse cx="171.4" cy="684.6" rx="5.6" ry="7.8" stroke-width="1.9" fill="#fff"/></g>
<g id="p5"><ellipse cx="190.4" cy="685.1" rx="9.4" ry="12.3" stroke-width="1.8" fill="#fff"/><ellipse cx="190.6" cy="685.4" rx="5.4" ry="8.0" stroke-width="1.7" fill="none"/></g>
<g id="p3"><path d="M368.5,669.5 L390.4,660.8" stroke-width="1.6" fill="none"/><path d="M343.5,647.5 Q339,650 339,659 Q339.5,670 345,671.5" stroke-width="1.6" fill="none"/><ellipse cx="348.0" cy="659.5" rx="3.4" ry="12.2" stroke-width="1.5" fill="none"/><ellipse cx="353.5" cy="659.5" rx="3.4" ry="12.2" stroke-width="1.5" fill="none"/><ellipse cx="359.0" cy="659.5" rx="3.4" ry="12.2" stroke-width="1.5" fill="none"/><ellipse cx="364.5" cy="659.5" rx="3.4" ry="12.2" stroke-width="1.5" fill="none"/><ellipse cx="369.0" cy="659.5" rx="3.4" ry="12.2" stroke-width="1.5" fill="none"/><path d="M342,648 Q345,644.5 350,646" stroke-width="1.6" fill="none"/></g>
<g id="p33"><ellipse cx="409.0" cy="707.0" rx="3.4" ry="4.7" stroke-width="2.4" fill="#333" transform="rotate(-20 409 707)"/></g>
<g id="p32"><polyline points="391.0,725.0 403.0,731.6 352.0,761.0 342.0,756.0" stroke-width="1.5" fill="none"/><line x1="373.0" y1="736.0" x2="384.5" y2="742.6" stroke-width="1.5"/><path d="M333,744 L346.5,737.5 Q351.5,737 353,744 Q354,751 350,753 L337,758 Z" stroke-width="1.8" fill="#fff"/><ellipse cx="333.5" cy="751.2" rx="5.3" ry="7.8" stroke-width="1.8" fill="#fff" transform="rotate(-25 333.5 751.2)"/><path d="M344,738.5 Q349,746 346,755 M347,737.8 Q352,745 349,754" stroke-width="1.2" fill="none"/><ellipse cx="364.5" cy="732.5" rx="4.2" ry="6.3" stroke-width="1.4" fill="none" transform="rotate(-25 364.5 732.5)"/><ellipse cx="380.5" cy="722.0" rx="3.2" ry="6.8" stroke-width="1.7" fill="none" transform="rotate(-30 380.5 722)"/><ellipse cx="383.2" cy="720.5" rx="3.2" ry="6.8" stroke-width="1.7" fill="none" transform="rotate(-30 383.2 720.55)"/><ellipse cx="385.9" cy="719.1" rx="3.2" ry="6.8" stroke-width="1.7" fill="none" transform="rotate(-30 385.9 719.1)"/><ellipse cx="388.6" cy="717.6" rx="3.2" ry="6.8" stroke-width="1.7" fill="none" transform="rotate(-30 388.6 717.65)"/><ellipse cx="391.3" cy="716.2" rx="3.2" ry="6.8" stroke-width="1.7" fill="none" transform="rotate(-30 391.3 716.2)"/><ellipse cx="394.0" cy="714.8" rx="3.2" ry="6.8" stroke-width="1.7" fill="none" transform="rotate(-30 394 714.75)"/></g>
<g id="p7"><ellipse cx="293.3" cy="759.8" rx="15.2" ry="21.3" stroke-width="1.8" fill="#fff" transform="rotate(-17 293.3 759.8)"/><ellipse cx="291.0" cy="760.0" rx="15.0" ry="21.2" stroke-width="1.9" fill="#fff" transform="rotate(-17 291 760)"/><path d="M285.5,740.5 Q287,744 290.5,741" stroke-width="1.4" fill="none"/><path d="M289.5,758.5 Q289.5,756 291.8,756.5 Q294.5,757.5 294,761.5 Q293,764.5 291,764 L291,765.8" stroke-width="1.5" fill="none"/><ellipse cx="291.3" cy="768.6" rx="1.0" ry="1.3" stroke-width="1" fill="#000"/></g>
<g id="p8"><path d="M255,775 L268,769 Q272.5,768 273.5,772 Q274.5,776.5 270.5,778 L258,784" stroke-width="1.7" fill="#fff"/><path d="M262.0,772.5 Q264.0,776.0 263.0,780.0" stroke-width="1.1" fill="none"/><path d="M264.6,771.3 Q266.6,774.8 265.6,778.8" stroke-width="1.1" fill="none"/><path d="M267.2,770.1 Q269.2,773.6 268.2,777.6" stroke-width="1.1" fill="none"/><path d="M269.8,768.9 Q271.8,772.4 270.8,776.4" stroke-width="1.1" fill="none"/><ellipse cx="256.4" cy="780.0" rx="7.1" ry="8.6" stroke-width="1.9" fill="#fff" transform="rotate(-20 256.4 780)"/><path d="M252,776 L260,784 M260,775 L252,784 M254,779 L259,781" stroke-width="1.3" fill="none"/></g>
<g id="p11b"><g transform="translate(290,-408)"><path d="M422.6,840.8 L423.3,843.5 L474.5,873 Q477.2,874.5 480,873 L535,840.5 L536.4,837" stroke-width="1.6" fill="#fff"/><path d="M425,844 L475,872.5 M483,871 L520,849 M524,846.5 L534,840.5" stroke-width="0.9" fill="none"/><path d="M506.6,815.6 L534.5,831.5 Q538.5,834 536,836.6 L480,869.8 Q477.2,871.6 474.5,870 L424.5,842 Q422.2,840.5 422,836 Q421.9,831 424,826.8 Q427,821 431,817 Q436,812 442.9,809.3 Z" stroke-width="1.9" fill="#fff"/><path d="M447.8,812.8 Q442,815 438,818.4 Q434,821.5 432.4,825.4 Q430,829 430.3,832.4 Q430.5,836 431.7,838 Q434,841 439.4,842.2 L446.4,844.3 Q449.5,844.3 452,843.6 L459,840.8 Q462,839 463.2,836.6 L465.3,832.4 Q467.5,829.5 470.2,828.9 L475.8,827.5" stroke-width="1.5" fill="none"/><path d="M435.2,821.2 Q441,816 449.2,813.5" stroke-width="1" fill="none"/><ellipse cx="476.5" cy="834.5" rx="7.0" ry="4.5" stroke-width="1.6" fill="none"/><ellipse cx="476.5" cy="834.5" rx="4.3" ry="2.5" stroke-width="1.1" fill="none"/><rect x="460.5" y="846.8" width="20" height="9" rx="4.5" transform="rotate(27 470.5 851.3)" stroke-width="1.6"/><rect x="462.8" y="848.4" width="15.4" height="5.8" rx="2.9" transform="rotate(27 470.5 851.3)" stroke-width="0.9"/><path d="M480,843.6 Q480.5,841.5 481.4,840.8 L489.8,836.6 L499.6,832.4 Q503,831.5 508,831.7 L516.4,828.9 Q521,828.5 526.2,832.4 L529.7,835.9 Q529.5,838 527.6,839.4 L522,843.6 L520.6,847.8 Q517,850.5 512.2,850.6 L505.2,849.2 L496.8,853.4 L491.2,856.9 Q488.5,857 487,855.5 L482.8,849.2 Z" stroke-width="1.5" fill="none"/><path d="M483,841.2 L490.5,838.2 L500,834.2 L508.5,833.3 L516.6,830.7 Q521,830.5 525.5,834" stroke-width="0.9" fill="none"/><path d="M490.5,824 Q490,827.5 491.2,828.9 Q494,830 496.8,829.6 L508,826.8 Q511,825.5 510.8,824" stroke-width="1.5" fill="none"/><path d="M504,816 L510.5,820.5 M506,815.5 L512,820 M501.5,817 L508,821.5" stroke-width="1" fill="none"/><ellipse cx="451.3" cy="848.5" rx="2.6" ry="1.8" stroke-width="1.4" fill="none"/><ellipse cx="478.6" cy="865.3" rx="2.6" ry="1.8" stroke-width="1.4" fill="none"/></g></g>
<g id="p10b"><g transform="translate(290,-408)"><path d="M469.6,749.1 Q472,748.5 475,750 L533.5,785 Q538.5,788 536.8,791.1 L527,796 L522.8,800.2 L513,804.4 L506,805.8 L499,811.4 L497.6,816.3 L490.6,817.7 L480.8,822.6 Q478,824.5 474,822.5 L423.4,794.6 Q420.5,790 421.3,786.2 Q422,780 425.5,776.4 Q430,771 436,766.6 L457,754 Z" stroke-width="1.9" fill="#fff"/><ellipse cx="469.8" cy="754.0" rx="2.6" ry="1.8" stroke-width="1.4" fill="none"/><ellipse cx="451.4" cy="802.3" rx="2.6" ry="1.8" stroke-width="1.4" fill="none"/><ellipse cx="478.7" cy="819.8" rx="2.6" ry="1.8" stroke-width="1.4" fill="none"/><ellipse cx="476.7" cy="788.0" rx="6.4" ry="4.0" stroke-width="1.7" fill="none"/><path d="M499.2,770.6 Q493.5,771.5 493.2,777 Q493.8,782 502.8,781.4 L509.4,778.4" stroke-width="2.8" fill="none"/><path d="M493.8,772 L489.5,782.3 L497,782.5" stroke-width="1.3" fill="none"/><path d="M467.4,797.3 Q476,799.5 480.5,804.5 Q482.5,809.5 474.5,812.5" stroke-width="2.8" fill="none"/><path d="M467.4,797.3 Q462,798 460.3,800.5 L460.8,806 Q464,805.5 470.5,802.5" stroke-width="1.3" fill="none"/></g></g>
<line x1="484.6" y1="23.4" x2="503.2" y2="12.6" stroke-width="1.6"/>
<line x1="511.2" y1="66.2" x2="551.0" y2="43.8" stroke-width="1.6"/>
<line x1="510.5" y1="161.0" x2="550.0" y2="138.0" stroke-width="1.6"/>
<line x1="530.4" y1="236.6" x2="550.2" y2="224.6" stroke-width="1.6"/>
<line x1="530.0" y1="345.0" x2="542.5" y2="337.5" stroke-width="1.6"/>
<line x1="530.5" y1="404.0" x2="542.5" y2="396.8" stroke-width="1.6"/>
<line x1="527.8" y1="469.6" x2="545.4" y2="459.2" stroke-width="1.6"/>
<line x1="445.4" y1="483.2" x2="471.8" y2="468.8" stroke-width="1.6"/>
<line x1="445.4" y1="510.4" x2="471.8" y2="495.2" stroke-width="1.6"/>
<line x1="523.8" y1="530.4" x2="545.4" y2="517.6" stroke-width="1.6"/>
<line x1="445.4" y1="546.4" x2="479.0" y2="527.7" stroke-width="1.6"/>
<line x1="447.0" y1="568.8" x2="454.2" y2="564.0" stroke-width="1.6"/>
<line x1="519.2" y1="603.2" x2="545.4" y2="588.0" stroke-width="1.6"/>
<line x1="315.6" y1="511.2" x2="332.4" y2="501.6" stroke-width="1.6"/>
<line x1="361.2" y1="542.4" x2="382.0" y2="530.4" stroke-width="1.6"/>
<line x1="282.8" y1="593.6" x2="299.6" y2="583.7" stroke-width="1.6"/>
<line x1="578.4" y1="659.6" x2="596.8" y2="648.8" stroke-width="1.6"/>
<line x1="329.6" y1="685.6" x2="349.6" y2="674.4" stroke-width="1.6"/>
<line x1="120.0" y1="708.0" x2="140.0" y2="696.0" stroke-width="1.6"/>
<line x1="158.4" y1="709.6" x2="180.8" y2="696.8" stroke-width="1.6"/>
<line x1="196.0" y1="710.4" x2="210.4" y2="701.6" stroke-width="1.6"/>
<line x1="237.6" y1="713.6" x2="265.6" y2="696.8" stroke-width="1.6"/>
<line x1="414.0" y1="713.0" x2="432.0" y2="722.4" stroke-width="1.6"/>
<line x1="538.0" y1="756.0" x2="565.0" y2="740.0" stroke-width="1.6"/>
<line x1="539.0" y1="781.6" x2="565.0" y2="766.4" stroke-width="1.6"/>
<line x1="537.0" y1="829.0" x2="565.0" y2="812.0" stroke-width="1.6"/>
<line x1="310.0" y1="781.6" x2="320.0" y2="788.0" stroke-width="1.6"/>
<line x1="380.5" y1="747.5" x2="387.5" y2="751.5" stroke-width="1.6"/>
<line x1="267.0" y1="786.4" x2="295.0" y2="802.4" stroke-width="1.6"/>
<line x1="396.0" y1="846.4" x2="412.5" y2="854.5" stroke-width="1.6"/>
<line x1="334.5" y1="888.4" x2="354.0" y2="878.5" stroke-width="1.6"/>
<line x1="534.0" y1="901.6" x2="564.0" y2="886.0" stroke-width="1.6"/>
<line x1="495.0" y1="979.0" x2="564.0" y2="940.0" stroke-width="1.6"/>
<line x1="794.6" y1="86.0" x2="794.6" y2="137.0" stroke-width="1.6"/>
<line x1="822.0" y1="207.8" x2="841.0" y2="197.0" stroke-width="1.6"/>
<line x1="820.5" y1="288.0" x2="839.0" y2="277.0" stroke-width="1.6"/>
<line x1="829.0" y1="373.5" x2="855.5" y2="358.0" stroke-width="1.6"/>
<line x1="827.0" y1="421.0" x2="855.0" y2="404.5" stroke-width="1.6"/>
</g>
<text x="505.2" y="13.0">2</text>
<text x="515.2" y="13.0">2</text>
<text x="552.6" y="43.0">2</text>
<text x="562.6" y="43.0">6</text>
<text x="553.0" y="138.0">2</text>
<text x="563.0" y="138.0">7</text>
<text x="554.0" y="225.0">2</text>
<path d="M568.1,225.0 L571.7,225.0 L571.7,212.0 L569.1,212.0 Q568.0,214.4 565.1,215.4 L565.1,217.9 Q566.9,217.5 568.1,216.3 Z" fill="#000" stroke="none"/>
<text x="546.0" y="338.0">2</text>
<text x="556.0" y="338.0">0</text>
<path d="M550.6,397.0 L554.2,397.0 L554.2,384.0 L551.6,384.0 Q550.5,386.4 547.6,387.4 L547.6,389.9 Q549.4,389.5 550.6,388.3 Z" fill="#000" stroke="none"/>
<text x="556.5" y="397.0">9</text>
<path d="M550.9,460.2 L554.5,460.2 L554.5,447.2 L551.9,447.2 Q550.8,449.6 547.9,450.6 L547.9,453.1 Q549.7,452.7 550.9,451.5 Z" fill="#000" stroke="none"/>
<text x="556.8" y="460.2">7</text>
<path d="M426.1,493.0 L429.7,493.0 L429.7,480.0 L427.1,480.0 Q426.0,482.4 423.1,483.4 L423.1,485.9 Q424.9,485.5 426.1,484.3 Z" fill="#000" stroke="none"/>
<text x="432.0" y="493.0">8</text>
<path d="M426.9,519.4 L430.5,519.4 L430.5,506.4 L427.9,506.4 Q426.8,508.8 423.9,509.8 L423.9,512.3 Q425.7,511.9 426.9,510.7 Z" fill="#000" stroke="none"/>
<text x="432.8" y="519.4">6</text>
<path d="M550.9,518.6 L554.5,518.6 L554.5,505.6 L551.9,505.6 Q550.8,508.0 547.9,509.0 L547.9,511.5 Q549.7,511.1 550.9,509.9 Z" fill="#000" stroke="none"/>
<text x="556.8" y="518.6">4</text>
<path d="M427.7,555.4 L431.3,555.4 L431.3,542.4 L428.7,542.4 Q427.6,544.8 424.7,545.8 L424.7,548.3 Q426.5,547.9 427.7,546.7 Z" fill="#000" stroke="none"/>
<text x="433.6" y="555.4">5</text>
<text x="423.6" y="578.6">3</text>
<path d="M437.7,578.6 L441.3,578.6 L441.3,565.6 L438.7,565.6 Q437.6,568.0 434.7,569.0 L434.7,571.5 Q436.5,571.1 437.7,569.9 Z" fill="#000" stroke="none"/>
<path d="M549.3,589.0 L552.9,589.0 L552.9,576.0 L550.3,576.0 Q549.2,578.4 546.3,579.4 L546.3,581.9 Q548.1,581.5 549.3,580.3 Z" fill="#000" stroke="none"/>
<text x="335.4" y="502.6">3</text>
<text x="345.4" y="502.6">0</text>
<text x="385.0" y="530.6">2</text>
<text x="395.0" y="530.6">3</text>
<text x="261.0" y="601.8">2</text>
<text x="271.0" y="601.8">4</text>
<text x="598.4" y="648.4">9</text>
<text x="316.6" y="693.0">3</text>
<text x="107.0" y="717.0">4</text>
<text x="144.6" y="718.6">5</text>
<text x="181.4" y="721.0">2</text>
<text x="224.6" y="723.4">6</text>
<text x="435.0" y="735.0">3</text>
<text x="445.0" y="735.0">3</text>
<text x="568.0" y="740.0">2</text>
<text x="578.0" y="740.0">5</text>
<path d="M572.1,766.0 L575.7,766.0 L575.7,753.0 L573.1,753.0 Q572.0,755.4 569.1,756.4 L569.1,758.9 Q570.9,758.5 572.1,757.3 Z" fill="#000" stroke="none"/>
<text x="578.0" y="766.0">0</text>
<text x="388.0" y="761.0">3</text>
<text x="398.0" y="761.0">2</text>
<text x="324.0" y="798.0">7</text>
<text x="300.0" y="813.0">8</text>
<path d="M572.1,812.0 L575.7,812.0 L575.7,799.0 L573.1,799.0 Q572.0,801.4 569.1,802.4 L569.1,804.9 Q570.9,804.5 572.1,803.3 Z" fill="#000" stroke="none"/>
<path d="M582.1,812.0 L585.7,812.0 L585.7,799.0 L583.1,799.0 Q582.0,801.4 579.1,802.4 L579.1,804.9 Q580.9,804.5 582.1,803.3 Z" fill="#000" stroke="none"/>
<text x="374.6" y="844.2">2</text>
<text x="384.6" y="844.2">9</text>
<text x="312.8" y="895.8">2</text>
<text x="322.8" y="895.8">8</text>
<path d="M568.6,885.5 L572.2,885.5 L572.2,872.5 L569.6,872.5 Q568.5,874.9 565.6,875.9 L565.6,878.4 Q567.4,878.0 568.6,876.8 Z" fill="#000" stroke="none"/>
<text x="574.5" y="885.5">2</text>
<path d="M568.6,941.0 L572.2,941.0 L572.2,928.0 L569.6,928.0 Q568.5,930.4 565.6,931.4 L565.6,933.9 Q567.4,933.5 568.6,932.3 Z" fill="#000" stroke="none"/>
<text x="574.5" y="941.0">3</text>
<text x="784.2" y="82.6">3</text>
<text x="794.2" y="82.6">4</text>
<text x="841.0" y="199.0">2</text>
<text x="851.0" y="199.0">0</text>
<path d="M843.6,279.0 L847.2,279.0 L847.2,266.0 L844.6,266.0 Q843.5,268.4 840.6,269.4 L840.6,271.9 Q842.4,271.5 843.6,270.3 Z" fill="#000" stroke="none"/>
<text x="849.5" y="279.0">9</text>
<path d="M862.1,359.0 L865.7,359.0 L865.7,346.0 L863.1,346.0 Q862.0,348.4 859.1,349.4 L859.1,351.9 Q860.9,351.5 862.1,350.3 Z" fill="#000" stroke="none"/>
<text x="868.0" y="359.0">0</text>
<path d="M862.1,404.5 L865.7,404.5 L865.7,391.5 L863.1,391.5 Q862.0,393.9 859.1,394.9 L859.1,397.4 Q860.9,397.0 862.1,395.8 Z" fill="#000" stroke="none"/>
<path d="M872.1,404.5 L875.7,404.5 L875.7,391.5 L873.1,391.5 Q872.0,393.9 869.1,394.9 L869.1,397.4 Q870.9,397.0 872.1,395.8 Z" fill="#000" stroke="none"/>
</svg>
</body></html>
